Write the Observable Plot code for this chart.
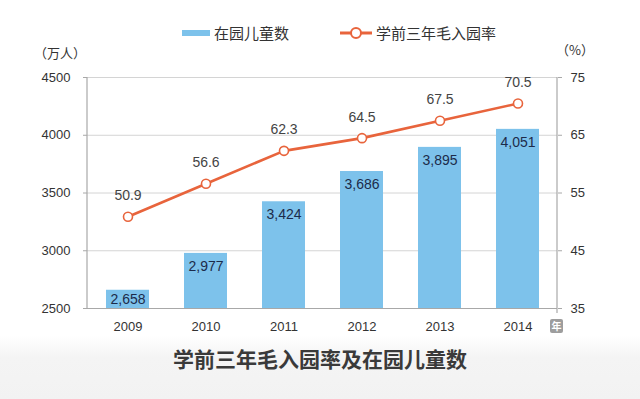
<!DOCTYPE html>
<html>
<head>
<meta charset="utf-8">
<script src="https://cdn.jsdelivr.net/npm/d3@7"></script>
<script src="https://cdn.jsdelivr.net/npm/@observablehq/plot@0.6"></script>
<style>
  html, body { margin: 0; padding: 0; background: #fff; }
  #wrap { position: relative; width: 640px; height: 399px; overflow: hidden;
    font-family: "Liberation Sans", Arial, "Noto Sans CJK SC", sans-serif; color: #333; }
  #band { position: absolute; left: 0; top: 336px; width: 640px; height: 63px;
    background: linear-gradient(#ffffff, #f4f4f4 35%, #f2f2f2); }
  #chart { position: absolute; left: 0; top: 0; }
  .abs { position: absolute; white-space: nowrap; }
  .cjk { font-family: "Noto Sans CJK SC", sans-serif; }
</style>
</head>
<body>
<div id="wrap">
  <div id="band"></div>
  <div id="chart"></div>
  <div class="abs" style="left:182px;top:30px;width:28px;height:6px;background:#7dc2eb;"></div>
  <div class="abs cjk" style="left:214px;top:22px;font-size:15px;line-height:22px;color:#333;">在园儿童数</div>
  <svg class="abs" style="left:338px;top:25px;" width="36" height="16">
    <line x1="2" y1="8" x2="34" y2="8" stroke="#e8643c" stroke-width="3"></line>
    <circle cx="18" cy="8" r="5" fill="#fff" stroke="#e8643c" stroke-width="2"></circle>
  </svg>
  <div class="abs cjk" style="left:376px;top:22px;font-size:15px;line-height:22px;color:#333;">学前三年毛入园率</div>
  <div class="abs cjk" style="left:34px;top:43px;font-size:13px;line-height:20px;color:#333;">（万人）</div>
  <div class="abs cjk" style="left:556px;top:40px;font-size:13px;line-height:20px;color:#333;">（%）</div>
  <div class="abs cjk" style="left:550px;top:319px;width:13px;height:14px;background:#9d9d9d;border-radius:2px;color:#fff;font-size:10px;line-height:14px;text-align:center;font-weight:bold;">年</div>
  <div class="abs cjk" style="left:0;top:343px;width:640px;text-align:center;font-size:21px;line-height:30px;font-weight:bold;color:#3a3a3a;">学前三年毛入园率及在园儿童数</div>
</div>
<script>
const years = ["2009", "2010", "2011", "2012", "2013", "2014"];
const children = [2658, 2977, 3424, 3686, 3895, 4051];        // 万人
const rates = [50.9, 56.6, 62.3, 64.5, 67.5, 70.5];          // %
const leftTicks = [2500, 3000, 3500, 4000, 4500];
const rightTicks = [35, 45, 55, 65, 75];

const data = years.map((y, i) => ({year: y, children: children[i], rate: rates[i]}));

// map the right-axis percent scale onto the left-axis scale
const pMin = 35, pMax = 75, cMin = 2500, cMax = 4500;
const toLeft = p => cMin + (p - pMin) * (cMax - cMin) / (pMax - pMin);
const toRight = v => pMin + (v - cMin) * (pMax - pMin) / (cMax - cMin);

const fmt = d3.format(",");
const axisColor = "#a8a8a8";

const axesLines = (index, scales, values, dims) => {
  const g = d3.create("svg:g").attr("stroke", axisColor).attr("stroke-width", 1.2);
  const x0 = dims.marginLeft, x1 = dims.width - dims.marginRight;
  const y0 = dims.marginTop, y1 = dims.height - dims.marginBottom;
  g.append("line").attr("x1", x0).attr("x2", x0).attr("y1", y0).attr("y2", y1);
  g.append("line").attr("x1", x1).attr("x2", x1).attr("y1", y0).attr("y2", y1 + 5);
  return g.node();
};

const plot = Plot.plot({
  width: 640,
  height: 399,
  marginTop: 77,
  marginBottom: 91,
  marginLeft: 87,
  marginRight: 83,
  style: {background: "transparent", fontFamily: "'Liberation Sans', Arial, sans-serif", fontSize: "13px", color: "#333"},
  x: {domain: years, paddingInner: 0.45, paddingOuter: 0.225, label: null},
  y: {domain: [cMin, cMax], label: null},
  marks: [
    Plot.gridY(leftTicks.slice(1), {stroke: "#d4d4d4", strokeOpacity: 1, strokeWidth: 1}),
    Plot.barY(data, {x: "year", y1: cMin, y2: "children", fill: "#7dc2eb"}),
    Plot.ruleY([cMin], {stroke: axisColor, strokeWidth: 1.2}),
    axesLines,
    Plot.axisY({ticks: leftTicks, tickFormat: v => String(v), tickSize: 4, tickPadding: 13, stroke: axisColor, fill: "#333", fontSize: 13, label: null}),
    Plot.axisY({anchor: "right", ticks: leftTicks, tickFormat: v => String(toRight(v)), tickSize: 4, tickPadding: 9, stroke: axisColor, fill: "#333", fontSize: 13, label: null}),
    Plot.axisX({tickSize: 0, tickPadding: 13, fill: "#333", fontSize: 13, label: null}),
    Plot.text(data.filter(d => d.children - cMin > 250), {x: "year", y: "children", text: d => fmt(d.children), dy: 13, fill: "#1c2b4a", fontSize: 14}),
    Plot.text(data.filter(d => d.children - cMin <= 250), {x: "year", y: "children", text: d => fmt(d.children), dy: 9, fill: "#1c2b4a", fontSize: 14}),
    Plot.line(data, {x: "year", y: d => toLeft(d.rate), stroke: "#e8643c", strokeWidth: 2.6}),
    Plot.dot(data, {x: "year", y: d => toLeft(d.rate), r: 4.5, fill: "#fff", stroke: "#e8643c", strokeWidth: 1.6}),
    Plot.text(data, {x: "year", y: d => toLeft(d.rate), text: d => d.rate.toFixed(1), dy: -21, fill: "#444", fontSize: 14})
  ]
});
document.getElementById("chart").appendChild(plot);
</script>
</body>
</html>
